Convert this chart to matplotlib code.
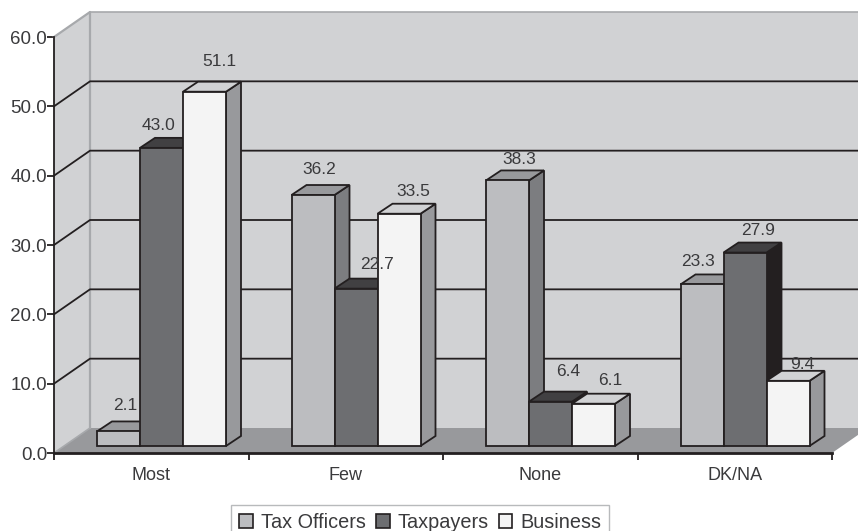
#!/usr/bin/env python
"""Pseudo-3D clustered bars drawn as polygons on ordinary data axes."""
import matplotlib
matplotlib.use("Agg")
import matplotlib.pyplot as plt
from matplotlib.patches import Patch, Polygon

categories = ["Most", "Few", "None", "DK/NA"]
series_names = ["Tax Officers", "Taxpayers", "Business"]
tax_officers = [2.1, 36.2, 38.3, 23.3]
taxpayers = [43.0, 22.7, 6.4, 27.9]
business = [51.1, 33.5, 6.1, 9.4]
y_ticks = [0, 10, 20, 30, 40, 50, 60]

W, H = 858, 531
LEFT, RIGHT, BOTTOM, TOP = 54, 832, 453, 37      # axes box in pixels
PX_X = 4 / (RIGHT - LEFT)                        # data units per pixel
PX_Y = 60 / (BOTTOM - TOP)

WALL_DX, WALL_DY = 36 * PX_X, 25 * PX_Y          # chart depth
BAR_DX, BAR_DY = 15 * PX_X, 10 * PX_Y            # bar depth
BASE_DX, BASE_DY = 10 * PX_X, 7 * PX_Y           # bars stand a bit back on the floor
BAR_W = 43 * PX_X
GROUP_PAD = 33 * PX_X

# (front, top, side) per series
BAR_COLORS = [("#bcbdc0", "#98999c", "#7c7d80"),
              ("#6d6e71", "#414042", "#231f20"),
              ("#f4f4f4", "#d1d2d4", "#98999c")]
# label offset from the bar's front top centre, pixels, per series then category
LABEL_NUDGE = [[(7, 26), (6, 26), (12, 21), (-4, 23)],
               [(-3, 22), (21, 24), (18, 30), (13, 22)],
               [(15, 30), (14, 22), (17, 23), (14, 16)]]

plt.rcParams["font.family"] = ["Liberation Sans", "DejaVu Sans"]
TEXT = "#3a3a3c"

fig = plt.figure(figsize=(W / 100, H / 100), dpi=100)
ax = fig.add_axes([LEFT / W, 1 - BOTTOM / H, (RIGHT - LEFT) / W, (BOTTOM - TOP) / H])
ax.set_xlim(0, 4)
ax.set_ylim(0, 60)
ax.patch.set_visible(False)


def poly(pts, fc, ec="none", lw=0.0, z=1):
    ax.add_patch(Polygon(pts, closed=True, facecolor=fc, edgecolor=ec, linewidth=lw,
                         zorder=z, clip_on=False, joinstyle="miter"))


# walls and floor
poly([(0, 0), (WALL_DX, WALL_DY), (WALL_DX, 60 + WALL_DY), (0, 60)], "#d1d2d4")
poly([(WALL_DX, WALL_DY), (4 + WALL_DX, WALL_DY), (4 + WALL_DX, 60 + WALL_DY), (WALL_DX, 60 + WALL_DY)], "#d1d2d4")
poly([(0, 0), (4, 0), (4 + WALL_DX, WALL_DY), (WALL_DX, WALL_DY)], "#98999c")
ax.plot([0, WALL_DX, WALL_DX], [60, 60 + WALL_DY, WALL_DY], color="#a7a9ac", lw=1.6, zorder=2, clip_on=False)
ax.plot([WALL_DX, 4 + WALL_DX], [60 + WALL_DY] * 2, color="#a7a9ac", lw=1.2, zorder=2, clip_on=False)
ax.plot([0, WALL_DX], [0, WALL_DY], color="#a7a9ac", lw=1.2, zorder=2, clip_on=False)

# gridlines: diagonal on the side wall, then along the back wall
for v in y_ticks[1:-1]:
    ax.plot([0, WALL_DX, 4 + WALL_DX], [v, v + WALL_DY, v + WALL_DY], color="#231f20",
            lw=1.3, zorder=2, clip_on=False)

# bars
all_series = [tax_officers, taxpayers, business]
for c in range(len(categories)):
    for s, values in enumerate(all_series):
        v = values[c]
        x0 = c + GROUP_PAD + s * BAR_W + BASE_DX
        x1 = x0 + BAR_W
        y0 = BASE_DY
        y1 = y0 + v
        front, top, side = BAR_COLORS[s]
        z = 3 + c + s * 0.1
        edge = dict(ec="#231f20", lw=1.3, z=z)
        poly([(x1, y0), (x1 + BAR_DX, y0 + BAR_DY), (x1 + BAR_DX, y1 + BAR_DY), (x1, y1)], side, **edge)
        poly([(x0, y1), (x1, y1), (x1 + BAR_DX, y1 + BAR_DY), (x0 + BAR_DX, y1 + BAR_DY)], top, **edge)
        poly([(x0, y0), (x1, y0), (x1, y1), (x0, y1)], front, **edge)

# value labels go over every bar
for s, values in enumerate(all_series):
    for c, v in enumerate(values):
        nx, ny = LABEL_NUDGE[s][c]
        xc = c + GROUP_PAD + (s + 0.5) * BAR_W + BASE_DX
        ax.text(xc + nx * PX_X, BASE_DY + v + ny * PX_Y, f"{v:.1f}", ha="center", va="center",
                fontsize=12.5, color=TEXT, zorder=20)

# axes
for name in ("top", "right"):
    ax.spines[name].set_visible(False)
ax.spines["left"].set_linewidth(1.3)
ax.spines["left"].set_color("#231f20")
ax.spines["bottom"].set_linewidth(2.0)
ax.spines["bottom"].set_color("#231f20")
for sp in ax.spines.values():
    sp.set_zorder(15)
ax.set_yticks(y_ticks)
ax.set_yticklabels([f"{v:.1f}" for v in y_ticks], fontsize=13.5, color=TEXT)
ax.set_xticks(range(5))
ax.set_xticklabels([])
ax.tick_params(axis="y", length=5, width=1.3, color="#231f20", pad=0)
ax.tick_params(axis="x", length=5, width=1.3, color="#231f20")
for c, name in enumerate(categories):
    ax.text(c + 0.5, -22 * PX_Y, name, ha="center", va="center", fontsize=13, color=TEXT)

handles = [Patch(facecolor=BAR_COLORS[i][0], edgecolor="#231f20", linewidth=1.2) for i in range(3)]
leg = fig.legend(handles, series_names, loc="lower left", bbox_to_anchor=(231 / W, -9 / H), ncol=3,
                 fontsize=14.3, frameon=True, fancybox=False, edgecolor="#a7a9ac", borderpad=0.4,
                 handlelength=0.7, handleheight=0.7, handletextpad=0.4, columnspacing=0.5,
                 borderaxespad=0, labelcolor=TEXT)
leg.get_frame().set_linewidth(1.0)

fig.savefig("out.png", dpi=100)
